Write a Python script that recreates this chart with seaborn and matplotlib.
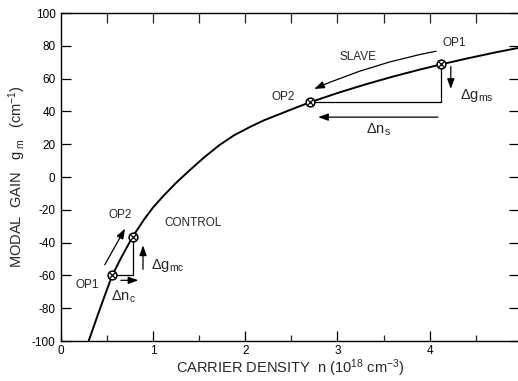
import matplotlib
matplotlib.use("Agg")
import matplotlib.pyplot as plt
import seaborn as sns
import pandas as pd

# carrier density (1e18 cm^-3) and modal gain (cm^-1)
density = [0.30, 0.40, 0.48, 0.556, 0.65, 0.777, 0.90, 1.00, 1.12, 1.25, 1.40,
           1.55, 1.72, 1.88, 2.05, 2.20, 2.37, 2.55, 2.70, 3.00, 3.30, 3.60,
           3.90, 4.12, 4.40, 4.70, 4.97]
gain = [-100, -84, -71.5, -60, -49.5, -36.5, -26, -18.5, -11, -3.5, 4.3,
        11.8, 19.5, 25.5, 30.5, 34.5, 38.3, 42.3, 45.5, 51.2, 56.4, 61.2,
        65.6, 68.6, 72.2, 75.8, 78.8]

# operating points
control_n = [0.556, 0.777]
control_g = [-60, -36.5]
slave_n = [4.12, 2.70]
slave_g = [68.6, 45.5]

x_ticks = [0, 1, 2, 3, 4]
y_ticks = [-100, -80, -60, -40, -20, 0, 20, 40, 60, 80, 100]

sns.set_theme(style="ticks")
plt.rcParams['font.family'] = ['Liberation Sans', 'DejaVu Sans']
plt.rcParams['mathtext.fontset'] = 'custom'
plt.rcParams['mathtext.rm'] = 'Liberation Sans'
plt.rcParams['mathtext.it'] = 'Liberation Sans'

fig = plt.figure(figsize=(5.18, 3.81), dpi=100)
ax = fig.add_axes([61/518, 40/381, 458/518, 328/381])

df = pd.DataFrame({"n": density, "g": gain})
sns.lineplot(data=df, x="n", y="g", ax=ax, color="black", linewidth=1.4)

# operating point markers (circle with cross)
pts = pd.DataFrame({"n": control_n + slave_n, "g": control_g + slave_g})
sns.scatterplot(data=pts, x="n", y="g", ax=ax, marker="o", s=40,
                facecolor="white", edgecolor="black", linewidth=1.1, zorder=5)
sns.scatterplot(data=pts, x="n", y="g", ax=ax, marker="x", s=18,
                color="black", linewidth=0.9, zorder=6)

ax.set_xlim(0, 4.97)
ax.set_ylim(-100, 100)
ax.set_xticks(x_ticks)
ax.set_xticks([0.5, 1.5, 2.5, 3.5, 4.5], minor=True)
ax.set_yticks(y_ticks)
ax.set_yticklabels([str(v) for v in y_ticks])
ax.tick_params(axis="both", which="major", direction="in", length=7, width=0.9,
               labelsize=8.5, colors="black", top=False, right=True)
ax.tick_params(axis="x", which="minor", direction="in", length=4, width=0.9,
               bottom=True, top=False)
ax.tick_params(axis="x", which="major", pad=3)
ax.tick_params(axis="y", which="major", pad=4)
# top ticks every 0.5
secx = ax.secondary_xaxis("top")
secx.set_xticks([0.5, 1, 1.5, 2, 2.5, 3, 3.5, 4, 4.5])
secx.tick_params(direction="in", length=7, width=0.9, labeltop=False)
secx.spines["top"].set_visible(False)
for s in ax.spines.values():
    s.set_linewidth(1.0)
    s.set_color("black")

ax.set_xlabel("CARRIER DENSITY  n (10$^{18}$ cm$^{-3}$)", fontsize=10.5, labelpad=0)
ax.set_ylabel("MODAL  GAIN   g$_{\\ \\mathrm{m}}$   (cm$^{-1}$)", fontsize=10.5, labelpad=3)

lw = 0.9
# slave triangle
ax.plot([slave_n[1], slave_n[0]], [slave_g[1], slave_g[1]], color="black", lw=lw)
ax.plot([slave_n[0], slave_n[0]], [slave_g[0], slave_g[1]], color="black", lw=lw)
# control triangle
ax.plot([control_n[0], control_n[1]], [control_g[0], control_g[0]], color="black", lw=lw)
ax.plot([control_n[1], control_n[1]], [control_g[0], control_g[1]], color="black", lw=lw)

arrow = dict(arrowstyle="-|>,head_length=0.5,head_width=0.18", color="black", lw=0.9)
# slave curved arrow
ax.annotate("", xy=(2.72, 53), xytext=(4.10, 77),
            arrowprops=dict(arrow, connectionstyle="arc3,rad=0.06"))
# delta g_ms
ax.annotate("", xy=(4.23, 52), xytext=(4.23, 69), arrowprops=arrow)
# delta n_s
ax.annotate("", xy=(2.76, 36.5), xytext=(4.12, 36.5), arrowprops=arrow)
# control arrow
ax.annotate("", xy=(0.71, -30), xytext=(0.46, -55), arrowprops=arrow)
# delta g_mc
ax.annotate("", xy=(0.89, -40), xytext=(0.89, -58), arrowprops=arrow)
# delta n_c
ax.annotate("", xy=(0.87, -63), xytext=(0.62, -63), arrowprops=arrow)

fs = 8.5
ax.text(3.22, 73, "SLAVE", fontsize=fs, ha="center", va="center")
ax.text(4.27, 82, "OP1", fontsize=fs, ha="center", va="center")
ax.text(2.41, 49, "OP2", fontsize=fs, ha="center", va="center")
ax.text(4.33, 50, "$\\Delta$g$_{\\mathrm{ms}}$", fontsize=10.5, ha="left", va="center")
ax.text(3.44, 28.5, "$\\Delta$n$_{\\mathrm{s}}$", fontsize=10.5, ha="center", va="center")
ax.text(1.43, -28, "CONTROL", fontsize=fs, ha="center", va="center")
ax.text(0.64, -23, "OP2", fontsize=fs, ha="center", va="center")
ax.text(0.28, -66, "OP1", fontsize=fs, ha="center", va="center")
ax.text(0.98, -54, "$\\Delta$g$_{\\mathrm{mc}}$", fontsize=10.5, ha="left", va="center")
ax.text(0.68, -73, "$\\Delta$n$_{\\mathrm{c}}$", fontsize=10.5, ha="center", va="center")

fig.savefig("out.png", dpi=100)
